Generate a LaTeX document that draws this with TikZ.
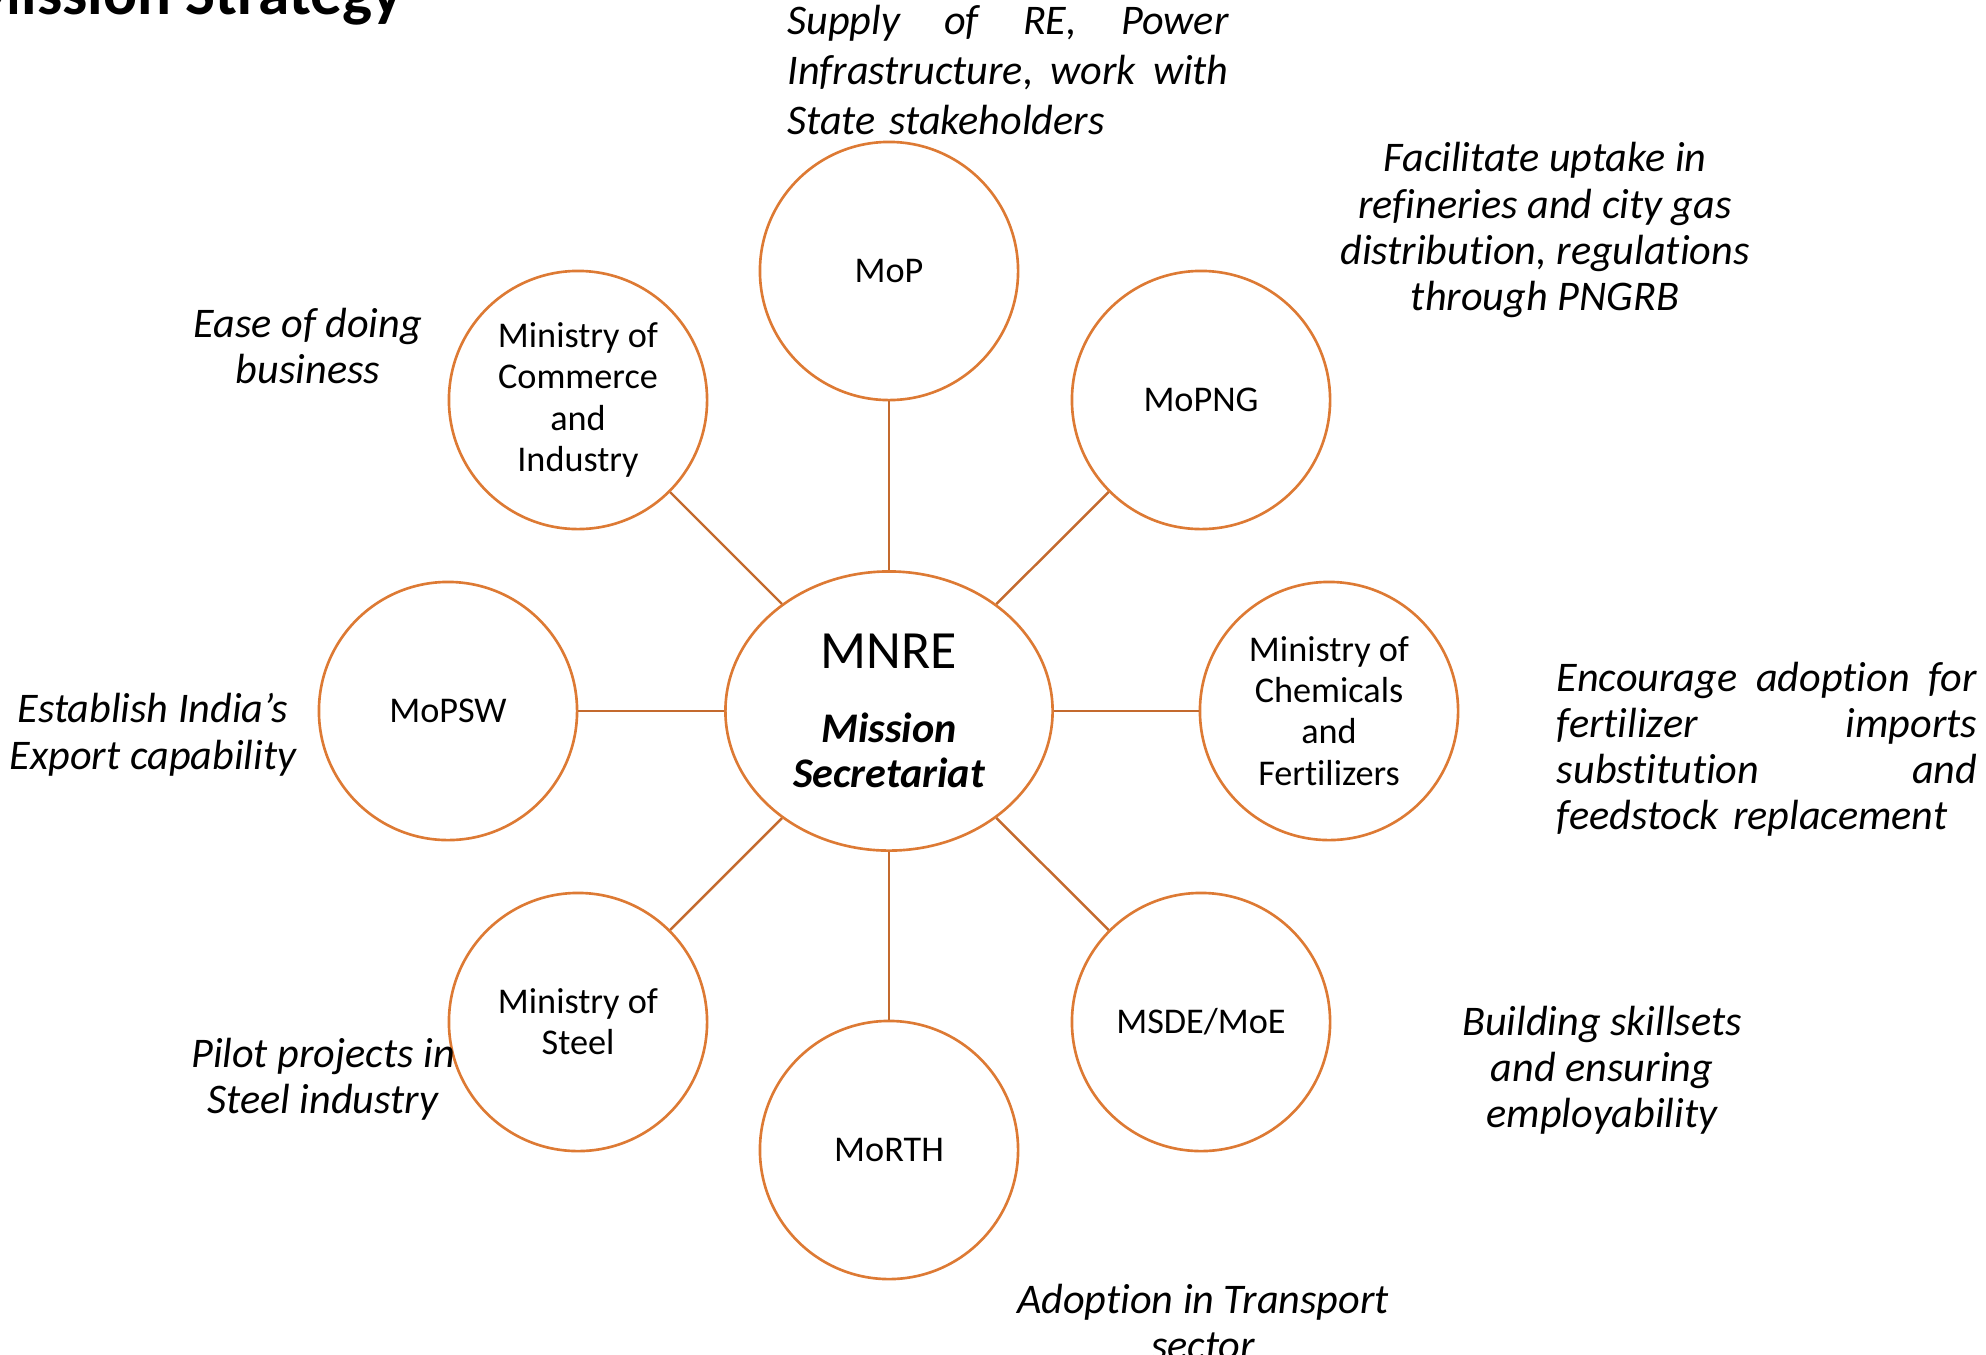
\documentclass[tikz,border=0pt]{standalone}
\usepackage{fontspec}
\setmainfont{Carlito}[Ligatures=NoCommon]
\usetikzlibrary{shapes.geometric}
\usetikzlibrary{positioning}

\definecolor{ringorange}{RGB}{221,122,52}
\definecolor{spokeorange}{RGB}{196,106,46}
% one line of a justified block, words pushed apart with \hfill
\newcommand{\spreadline}[2]{\makebox[#1][s]{#2}}

\begin{document}
\begin{tikzpicture}[x=0.01cm,y=-0.01cm,
	ministry/.style={circle,draw=ringorange,line width=0.75pt,minimum size=2.58cm,inner sep=0pt,
		align=center,font=\fontsize{10.3}{11.7}\selectfont},
	note/.style={inner sep=0pt,align=center,font=\fontsize{12}{13.1}\selectfont\itshape},
	spoke/.style={draw=spokeorange,line width=0.7pt}]
	\useasboundingbox (0,0) rectangle (1986,1354);
	\node[font=\fontsize{18}{18}\selectfont\bfseries,anchor=base east,inner sep=0pt] (title) at (403,14) {Mission Strategy};
	% hub
	\node[ellipse,draw=ringorange,line width=0.75pt,minimum width=3.27cm,minimum height=2.79cm,inner sep=0pt,
		align=center,font=\fontsize{12}{12.8}\selectfont\bfseries\itshape] (mnre) at (889,711)
		{{\fontsize{15.3}{15.3}\selectfont\mdseries\upshape MNRE}\\[8.2pt]Mission\\Secretariat};
	% ministries, clockwise from the top
	\node[ministry] (mop) at (889,271) {MoP};
	\node[ministry] (mopng) at (1201,400) {MoPNG};
	\node[ministry] (mocf) at (1329,711) {Ministry of\\Chemicals\\and\\Fertilizers};
	\node[ministry] (msde) at (1201,1022) {MSDE/MoE};
	\node[ministry] (morth) at (889,1150) {MoRTH};
	\node[ministry] (mos) at (578,1022) {Ministry of\\Steel};
	\node[ministry] (mopsw) at (448,711) {MoPSW};
	\node[ministry] (moci) at (578,400) {Ministry of\\Commerce\\and\\Industry};
	\foreach \m in {mop,mopng,mocf,msde,morth,mos,mopsw,moci}
		\draw[spoke] (mnre) -- (\m);
	% roles
	\node[note,text width=4.41cm,align=left,font=\fontsize{12}{14.2}\selectfont\itshape] (power) at (1008,70)
		{\spreadline{4.41cm}{Supply\hfill of\hfill RE,\hfill Power}\\
		\spreadline{4.41cm}{Infrastructure,\hfill work\hfill with}\\
		State stakeholders};
	\node[note] (gas) at (1545,230) {Facilitate uptake in\\refineries and city gas\\distribution, regulations\\through PNGRB};
	\node[note,text width=4.20cm,align=left] (fert) at (1767,749)
		{\spreadline{4.20cm}{Encourage\hfill adoption\hfill for}\\
		\spreadline{4.20cm}{fertilizer\hfill imports}\\
		\spreadline{4.20cm}{substitution\hfill and}\\
		feedstock replacement};
	\node[note] (skill) at (1602,1070) {Building skillsets\\and ensuring\\employability};
	\node[note] (transport) at (1203,1322) {Adoption in Transport\\sector};
	\node[note] (steel) at (323,1079) {Pilot projects in\\Steel industry};
	\node[note,font=\fontsize{12}{13.4}\selectfont\itshape] (export) at (153,735) {Establish India’s\\Export capability};
	\node[note] (business) at (308,346) {Ease of doing\\business};
\end{tikzpicture}
\end{document}
